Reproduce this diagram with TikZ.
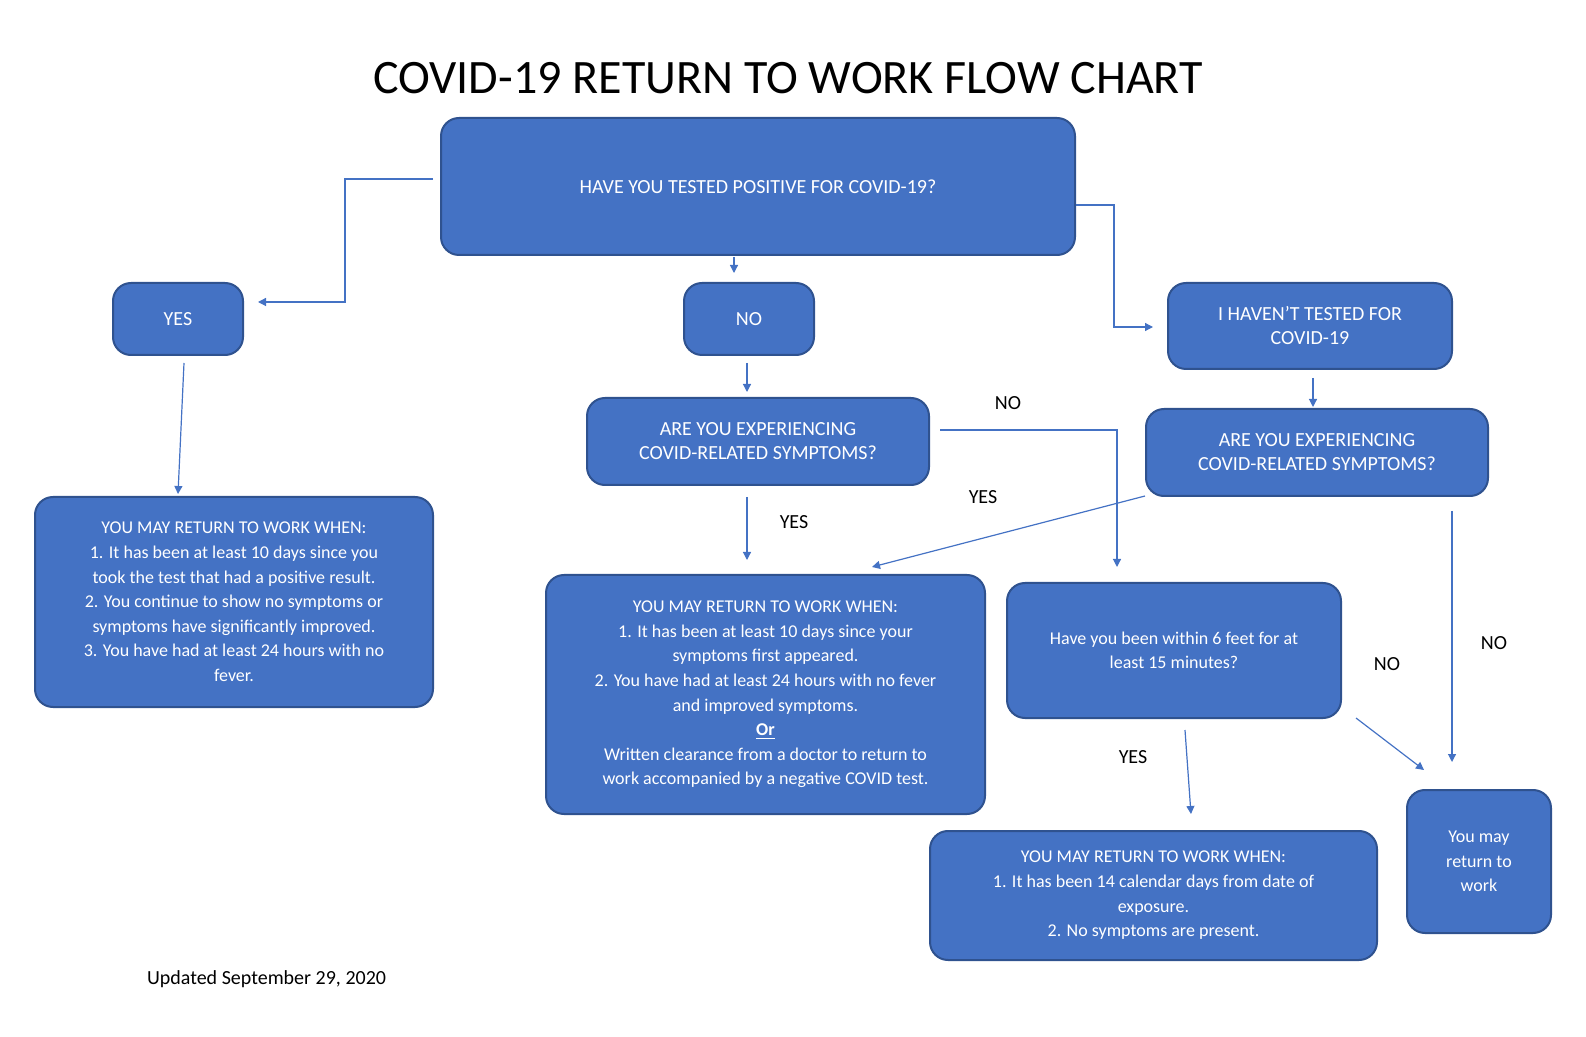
\documentclass[tikz,border=0pt]{standalone}
\usepackage{fontspec}
\setmainfont{Carlito}
\usetikzlibrary{arrows.meta}
\definecolor{bfill}{HTML}{4472C4}
\definecolor{bdraw}{HTML}{2F528F}
\begin{document}
\begin{tikzpicture}[x=0.5pt,y=-0.5pt,
  bx/.style={draw=bdraw,line width=1pt,fill=bfill,rounded corners=9pt,text=white,align=center,inner sep=0pt,font=\fontsize{10}{12}\selectfont},
  sx/.style={bx,font=\fontsize{9}{12.3}\selectfont},
  conn/.style={draw=bfill,line width=0.6pt,-{Triangle[length=4pt,width=4pt]}},
  lbl/.style={font=\fontsize{10}{12}\selectfont,text=black}]
\useasboundingbox (0,0) rectangle (1586,1037);
\node[font=\fontsize{24}{28}\selectfont] (title) at (788,78) {COVID-19 RETURN TO WORK FLOW CHART};
\node[bx,minimum width=317pt,minimum height=68.5pt] (top) at (758,186.5) {HAVE YOU TESTED POSITIVE FOR COVID-19?};
\node[bx,minimum width=65pt,minimum height=36pt] (yes) at (178,319) {YES};
\node[bx,minimum width=65pt,minimum height=36pt] (no) at (749,319) {NO};
\node[bx,minimum width=142pt,minimum height=43pt] (havent) at (1310,326) {I HAVEN’T TESTED FOR\\COVID-19};
\node[bx,minimum width=171pt,minimum height=43.5pt] (symL) at (758,441.5) {ARE YOU EXPERIENCING\\COVID-RELATED SYMPTOMS?};
\node[bx,minimum width=171pt,minimum height=43.5pt] (symR) at (1317,452.5) {ARE YOU EXPERIENCING\\COVID-RELATED SYMPTOMS?};
\node[sx,minimum width=199pt,minimum height=105pt] (resL) at (234,602) {YOU MAY RETURN TO WORK WHEN:\\1. It has been at least 10 days since you\\took the test that had a positive result.\\2. You continue to show no symptoms or\\symptoms have significantly improved.\\3. You have had at least 24 hours with no\\fever.};
\node[sx,minimum width=219.5pt,minimum height=119.5pt] (resM) at (765.5,694.5) {YOU MAY RETURN TO WORK WHEN:\\1. It has been at least 10 days since your\\symptoms first appeared.\\2. You have had at least 24 hours with no fever\\and improved symptoms.\\\underline{\textbf{Or}}\\Written clearance from a doctor to return to\\work accompanied by a negative COVID test.};
\node[sx,minimum width=167pt,minimum height=67.5pt] (within) at (1174,650.5) {Have you been within 6 feet for at\\least 15 minutes?};
\node[sx,minimum width=223.5pt,minimum height=64.5pt] (resB) at (1153.5,895.5) {YOU MAY RETURN TO WORK WHEN:\\1. It has been 14 calendar days from date of\\exposure.\\2. No symptoms are present.};
\node[sx,minimum width=72pt,minimum height=71.5pt] (may) at (1479,861.5) {You may\\return to\\work};
\node[font=\fontsize{10}{12}\selectfont,anchor=west] (upd) at (140,979) {Updated September 29, 2020};
\coordinate (a1) at (433,179); \coordinate (a2) at (258,302);
\draw[conn] (a1) -- (345,179) -- (345,302) -- (a2);
\coordinate (b1) at (1076,205); \coordinate (b2) at (1153,327);
\draw[conn] (b1) -- (1114,205) -- (1114,327) -- (b2);
\coordinate (c1) at (734,257); \coordinate (c2) at (734,273); \draw[conn] (c1) -- (c2);
\coordinate (d1) at (747,363); \coordinate (d2) at (747,392); \draw[conn] (d1) -- (d2);
\coordinate (e1) at (184,363); \coordinate (e2) at (178,494); \draw[conn] (e1) -- (e2);
\coordinate (f1) at (1313,378); \coordinate (f2) at (1313,407); \draw[conn] (f1) -- (f2);
\coordinate (g1) at (747,497); \coordinate (g2) at (747,560); \draw[conn] (g1) -- (g2);
\coordinate (h1) at (940,430); \coordinate (h2) at (1117,567); \draw[conn] (h1) -- (1117,430) -- (h2);
\coordinate (i1) at (1145,496); \coordinate (i2) at (872,567); \draw[conn] (i1) -- (i2);
\coordinate (j1) at (1452,511); \coordinate (j2) at (1452,762); \draw[conn] (j1) -- (j2);
\coordinate (k1) at (1356,718); \coordinate (k2) at (1424,770); \draw[conn] (k1) -- (k2);
\coordinate (l1) at (1185,730); \coordinate (l2) at (1191,814); \draw[conn] (l1) -- (l2);
\node[lbl] (t1) at (794,522) {YES};
\node[lbl] (t2) at (1008,403) {NO};
\node[lbl] (t3) at (983,497) {YES};
\node[lbl] (t4) at (1494,643) {NO};
\node[lbl] (t5) at (1387,664) {NO};
\node[lbl] (t6) at (1133,757) {YES};
\end{tikzpicture}
\end{document}
